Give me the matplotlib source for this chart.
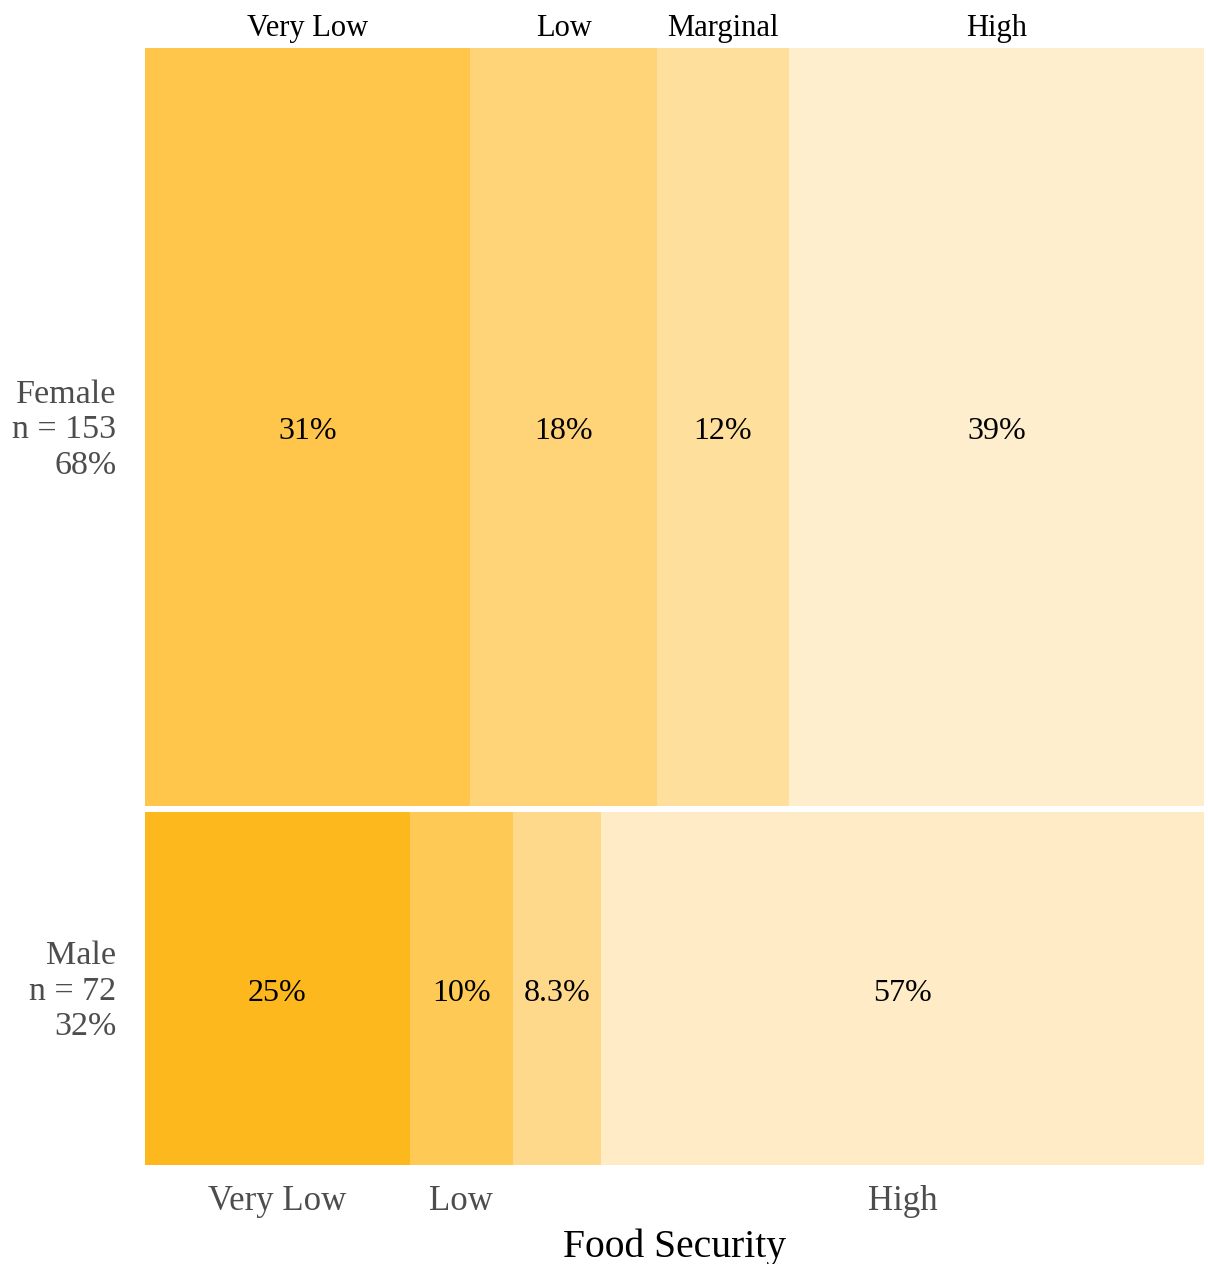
import matplotlib
matplotlib.use("Agg")
import matplotlib.pyplot as plt
from matplotlib.transforms import blended_transform_factory

categories = ["Very Low", "Low", "Marginal", "High"]
groups = ["Female", "Male"]
female_counts = [47, 27, 19, 60]
male_counts = [18, 7, 6, 41]
female_labels = ["31%", "18%", "12%", "39%"]
male_labels = ["25%", "10%", "8.3%", "57%"]
group_n = [153, 72]
group_pct = ["68%", "32%"]
bottom_shown = ["Very Low", "Low", "High"]

female_colors = ["#FFC64B", "#FFD479", "#FFDF9C", "#FFEECD"]
male_colors = ["#FDB81E", "#FFC955", "#FFD98B", "#FFECC6"]

plt.rcParams["font.family"] = ["Liberation Serif", "DejaVu Serif"]

W, H = 1208, 1264
fig = plt.figure(figsize=(W / 100, H / 100), dpi=100)
ax = fig.add_axes([145 / W, 1 - 1165 / H, (1204 - 145) / W, (1165 - 48) / H])

gap = 6 / 1117
total = sum(group_n)
male_h = (1 - gap) * group_n[1] / total - 2.5 / 1117
rows = [
    (female_counts, female_labels, female_colors, male_h + gap, 1 - male_h - gap),
    (male_counts, male_labels, male_colors, 0, male_h),
]

centers = {}
for gi, (counts, labels, colors, y0, h) in enumerate(rows):
    s = sum(counts)
    left = 0
    cs = []
    for c, lab, col in zip(counts, labels, colors):
        w = c / s
        ax.barh(y0 + h / 2, w, left=left, height=h, color=col, linewidth=0)
        ax.text(left + w / 2, y0 + h / 2 - 1.5 / 1117, lab, ha="center",
                va="center_baseline", fontsize=23, color="black")
        cs.append(left + w / 2)
        left += w
    centers[gi] = cs
    ax.text(-0.027, y0 + h / 2 - 3 / 1117,
            f"{groups[gi]}\nn = {group_n[gi]}\n{group_pct[gi]}",
            ha="right", va="center", fontsize=24.5, color="#4D4D4D",
            linespacing=1.22, transform=ax.transData, clip_on=False)

ax.set_xlim(0, 1)
ax.set_ylim(0, 1)
ax.axis("off")

tr = blended_transform_factory(ax.transData, fig.transFigure)
for x, cat in zip(centers[0], categories):
    ax.text(x, 1 - 25 / H, cat, ha="center", va="center_baseline", fontsize=22,
            color="black", transform=tr)
for x, cat in zip(centers[1], categories):
    if cat in bottom_shown:
        ax.text(x, 1 - 1198 / H, cat, ha="center", va="center_baseline", fontsize=25,
                color="#4D4D4D", transform=tr)

fig.text((145 + 1204) / 2 / W, 1 - 1243 / H, "Food Security", ha="center",
         va="center_baseline", fontsize=28.5, color="black")

fig.savefig("out.png", dpi=100, facecolor="white")
